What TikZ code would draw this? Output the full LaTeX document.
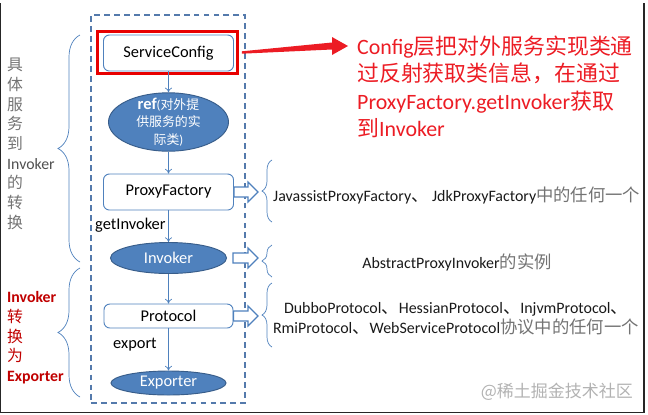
\documentclass[tikz,border=0pt]{standalone}
\usepackage{fontspec}
\setmainfont{Carlito}
\newfontfamily\cjk{Noto Sans CJK SC}
\usetikzlibrary{arrows.meta,calc,decorations.pathreplacing,shapes.geometric}

\definecolor{boxblue}{RGB}{79,129,189}
\definecolor{ovaledge}{RGB}{56,93,138}
\definecolor{dashblue}{RGB}{84,122,172}
\definecolor{notered}{RGB}{236,28,36}
\definecolor{boxred}{RGB}{232,0,0}
\definecolor{layerred}{RGB}{192,0,0}
\definecolor{leftgray}{RGB}{80,80,80}
\definecolor{cjkgray}{RGB}{115,115,115}
\definecolor{descgray}{RGB}{25,25,25}

\tikzset{
  layerbox/.style={draw=dashblue, line width=1.1pt, dash pattern=on 5pt off 3.5pt, inner sep=0pt},
  stepbox/.style={draw=boxblue, line width=0.8pt, rounded corners=5pt, fill=white, inner sep=0pt, font=\fontsize{14}{16}\selectfont},
  oval/.style={ellipse, draw=ovaledge, line width=0.8pt, fill=boxblue, text=white, inner sep=0pt, font=\fontsize{14}{16}\selectfont},
  flow/.style={draw=boxblue, line width=0.6pt, -{To[length=4pt,width=6pt]}},
  hollowarrow/.style={draw=boxblue, line width=1pt, fill=white},
  rbrace/.style={draw=boxblue, line width=0.6pt, decorate, decoration={brace, amplitude=0.3cm}},
  lbrace/.style={draw=boxblue, line width=0.6pt, decorate, decoration={brace, amplitude=0.66cm}},
  steplabel/.style={inner sep=0pt, font=\fontsize{14}{16}\selectfont},
  desc/.style={inner sep=0pt, align=center, text=descgray, font=\fontsize{13.6}{17}\selectfont},
  lefttext/.style={inner sep=0pt, align=left, text=leftgray, font=\fontsize{13.5}{16.8}\selectfont},
  note/.style={inner sep=0pt, align=left, text=notered, font=\fontsize{18.7}{23.5}\selectfont}
}

% CJK run in the descriptions
\newcommand\zh[1]{{\cjk\fontsize{14.8}{17}\selectfont #1}}

% hollow block arrow from #1 to #2 (same height)
\newcommand\blockarrow[2]{%
  \draw[hollowarrow] ($(#1)+(0,5)$) -- ($(#2)+(-10,5)$) -- ($(#2)+(-10,10)$) -- (#2)
    -- ($(#2)+(-10,-10)$) -- ($(#2)+(-10,-5)$) -- ($(#1)+(0,-5)$) -- cycle;}

\begin{document}
\begin{tikzpicture}[x=0.03cm,y=-0.03cm]
  \useasboundingbox (0,0) rectangle (648,414);
  \draw[black!85, line width=1.2pt] (0.6,3) -- (0.6,412.4) -- (644,412.4) -- (644,3);

  % dashed layer
  \node[layerbox, minimum width=4.62cm, minimum height=11.64cm] (layer) at (168,209) {};

  % steps
  \node[stepbox, minimum width=3.9cm, minimum height=1.08cm] (sc) at (168.5,53) {ServiceConfig};
  \node[draw=boxred, line width=2.3pt, minimum width=4.2cm, minimum height=1.26cm, inner sep=0pt] (redbox) at (167.5,52.5) {};
  \node[oval, minimum width=3.6cm, minimum height=1.5cm, inner ysep=-3pt, align=center] (ref) at (168.5,122)
    {{\bfseries ref}{\fontsize{11}{13}\selectfont(\cjk 对外提}\\[-1pt]{\fontsize{11}{13}\selectfont\cjk 供服务的实}\\[-1pt]{\fontsize{11}{13}\selectfont{\cjk 际类})}};
  \node[stepbox, minimum width=3.9cm, minimum height=1.08cm] (pf) at (168.5,192) {ProxyFactory};
  \node[oval, minimum width=3.48cm, minimum height=0.93cm] (inv) at (168.5,258) {Invoker};
  \node[stepbox, minimum width=3.87cm, minimum height=0.72cm] (prot) at (168.5,316) {Protocol};
  \node[oval, minimum width=3.45cm, minimum height=0.72cm] (exp) at (168.5,383) {Exporter};

  \draw[flow] (sc) -- (ref);
  \draw[flow] (ref) -- (pf);
  \draw[flow] (pf) -- (inv);
  \draw[flow] (inv) -- (prot);
  \draw[flow] (prot) -- (exp);

  \node[steplabel, anchor=west] (gi) at (95,225) {getInvoker};
  \node[steplabel, anchor=west] (ex) at (113,345) {export};

  % right side
  \coordinate (pfTip) at (258,192);
  \coordinate (invR) at (233,258);
  \coordinate (invTip) at (258,258);
  \coordinate (protTip) at (258,316);
  \blockarrow{pf.east}{pfTip}
  \blockarrow{invR}{invTip}
  \blockarrow{prot.east}{protTip}
  \draw[rbrace] (272,222) -- (272,160);
  \draw[rbrace] (272,277) -- (272,245);
  \draw[rbrace] (272,347) -- (272,283);

  \node[desc, anchor=west] (pfText) at (273,195)
    {JavassistProxyFactory\zh{、} JdkProxyFactory\zh{\color{cjkgray}中的任何一个}};
  \node[desc] (invText) at (457,262) {AbstractProxyInvoker\zh{\color{cjkgray}的实例}};
  \node[desc] (protText) at (456,319)
    {DubboProtocol\zh{、}HessianProtocol\zh{、}InjvmProtocol\zh{、}\\
     RmiProtocol\zh{、}WebServiceProtocol\zh{\color{cjkgray}协议中的任何一个}};

  % left side
  \draw[lbrace] (80,262) -- (80,35);
  \draw[lbrace] (80,397) -- (80,268);
  \node[lefttext, anchor=west] (ltop) at (7,144)
    {{\cjk\color{cjkgray}具}\\{\cjk\color{cjkgray}体}\\{\cjk\color{cjkgray}服}\\{\cjk\color{cjkgray}务}\\{\cjk\color{cjkgray}到}\\Invoker\\{\cjk\color{cjkgray}的}\\{\cjk\color{cjkgray}转}\\{\cjk\color{cjkgray}换}};
  \node[lefttext, text=layerred, anchor=west] (lbot) at (7,338)
    {\bfseries Invoker\\{\cjk 转}\\{\cjk 换}\\{\cjk 为}\\\bfseries Exporter};

  % note
  \node[note, anchor=west] (note) at (357,87)
    {Config{\cjk 层把对外服务实现类通}\\{\cjk 过反射获取类信息，在通过}\\ProxyFactory.getInvoker{\cjk 获取}\\{\cjk 到}Invoker};
  \coordinate (noteTip) at (348,46);
  \fill[notered] ($(redbox.east)+(3,-1.2)$) -- ($(noteTip)+(-16,-3.5)$) -- ($(noteTip)+(-16,-9)$) -- (noteTip)
    -- ($(noteTip)+(-16,9)$) -- ($(noteTip)+(-16,3.5)$) -- ($(redbox.east)+(3,1.2)$) -- cycle;

  \node[inner sep=0pt, anchor=east, text=black!30, font=\cjk\fontsize{14.5}{16}\selectfont] (mark) at (633,392) {@稀土掘金技术社区};
\end{tikzpicture}
\end{document}
